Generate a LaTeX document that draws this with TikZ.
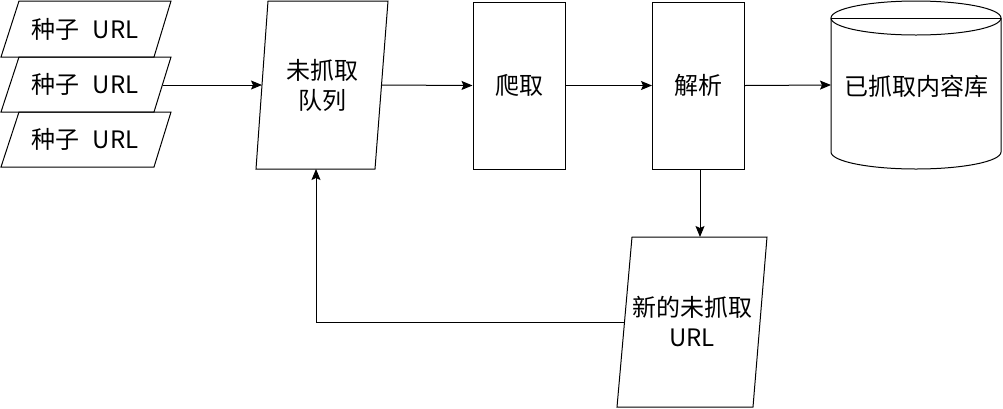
\documentclass[tikz,border=0pt]{standalone}
\usepackage{fontspec}
\setmainfont{Noto Sans CJK SC}
\usetikzlibrary{arrows.meta}

\begin{document}
\begin{tikzpicture}[x=1pt, y=-1pt, line width=1pt,
  outline/.style={draw=black, line join=miter},
  caption/.style={font=\fontsize{24}{30}\selectfont, align=center, inner sep=0pt},
  stagebox/.style={draw=black, minimum width=92pt, minimum height=167pt,
                   inner sep=0pt, font=\fontsize{24}{30}\selectfont},
  flow/.style={draw=black, -{Stealth[length=11pt, width=9pt, inset=2pt]}}]
\useasboundingbox (0,0) rectangle (1003,408);

% seed URLs: three stacked parallelograms
\draw[outline] (19,1)   -- (171,1)   -- (154,57)  -- (1,57)  -- cycle;
\draw[outline] (19,57)  -- (171,57)  -- (154,112) -- (1,112) -- cycle;
\draw[outline] (19,112) -- (171,112) -- (154,167) -- (1,167) -- cycle;
\node[caption] (seedA) at (85,29)  {种子\hspace{13pt}URL};
\node[caption] (seedB) at (85,84)  {种子\hspace{13pt}URL};
\node[caption] (seedC) at (85,139) {种子\hspace{13pt}URL};
\coordinate (seedOut) at (162.5,85);

% queue of URLs still to fetch
\draw[outline] (268,1) -- (388,1) -- (375,169) -- (256,169) -- cycle;
\node[caption] (queue) at (322,85) {未抓取\\队列};
\coordinate (queueIn)   at (262,85);
\coordinate (queueOut)  at (381.5,85);
\coordinate (queueBack) at (316,169);

% fetch and parse stages
\node[stagebox] (fetch) at (519,85.5)   {爬取};
\node[stagebox] (parse) at (698.5,85.5) {解析};

% store of fetched content
\draw[outline] (831,18) -- (831,152)
  arc[start angle=180, end angle=360, x radius=85pt, y radius=17pt] -- (1001,18);
\draw[outline] (916,18) ellipse [x radius=85pt, y radius=17pt];
\draw[outline] (831,18) -- (1001,18);
\node[caption] (store) at (916,86) {已抓取内容库};
\coordinate (storeIn) at (831,85);

% newly discovered URLs
\draw[outline] (632,237) -- (767,237) -- (753,407) -- (617,407) -- cycle;
\node[caption] (fresh) at (692,322) {新的未抓取\\URL};
\coordinate (freshTop)  at (700,237);
\coordinate (freshLeft) at (624.5,322);
\coordinate (parseDown) at (700,169);

% connectors
\draw[flow] (seedOut) -- (queueIn);
\draw[flow] (queueOut) -- (fetch.west);
\draw[flow] (fetch.east) -- (parse.west);
\draw[flow] (parse.east) -- (storeIn);
\draw[flow] (parseDown) -- (freshTop);
\draw[flow] (freshLeft) -- (316,322) -- (queueBack);
\end{tikzpicture}
\end{document}
